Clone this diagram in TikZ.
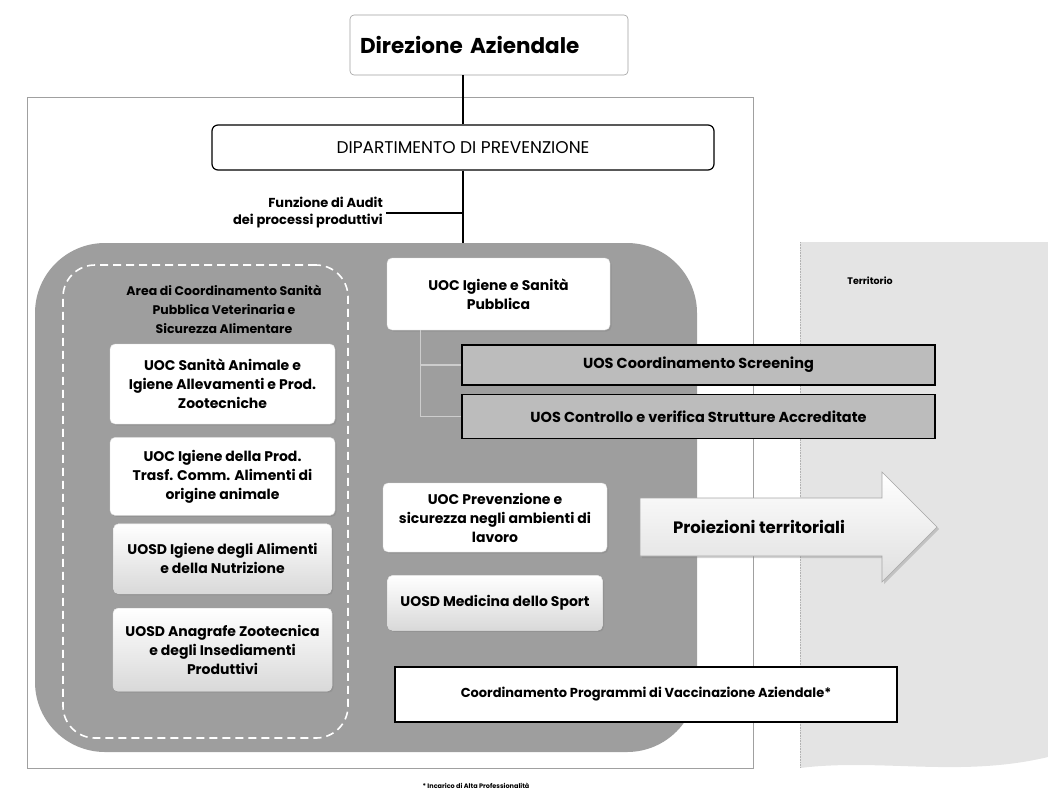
\documentclass[tikz,border=0pt]{standalone}
\usepackage{fontspec}
\setmainfont{Poppins}
\usepackage{tikz}
\usetikzlibrary{positioning, shadows, calc, backgrounds}
\definecolor{aslgray}{RGB}{158,158,158}
\definecolor{asluos}{RGB}{188,188,188}
\definecolor{aslterr}{RGB}{228,228,228}
\definecolor{aslframe}{RGB}{160,160,160}
\definecolor{aslfaint}{RGB}{205,205,205}
\tikzset{
  %% ---- boxes ----
  topbox/.style   = {rectangle, rounded corners=4pt,
                     draw=aslframe, line width=0.6pt, fill=white,
                     text width=258pt, align=left, inner xsep=10pt,
                     font=\fontsize{21.5}{24}\selectfont\bfseries},
  deptbox/.style  = {rectangle, rounded corners=6pt,
                     draw=black, line width=1.2pt, fill=white,
                     align=center, font=\fontsize{17}{20}\selectfont},
  unitbox/.style  = {rectangle, rounded corners=5pt,
                     draw=white!85!black, line width=0.4pt, fill=white,
                     align=center, inner sep=2pt,
                     font=\fontsize{14}{19}\selectfont\bfseries,
                     drop shadow={shadow xshift=1.5pt, shadow yshift=-1.5pt,
                                  opacity=0.35}},
  unitshade/.style= {unitbox, top color=white, bottom color=gray!30},
  uosbox/.style   = {rectangle, draw=black, line width=1.3pt,
                     fill=asluos, align=center,
                     font=\fontsize{14.5}{17}\selectfont\bfseries},
  vaccbox/.style  = {rectangle, draw=black, line width=1.2pt,
                     fill=white, align=center,
                     font=\fontsize{13}{16}\selectfont\bfseries},
  areabox/.style  = {rectangle, rounded corners=70pt, fill=aslgray},
  dashbox/.style  = {rectangle, rounded corners=32pt, draw=white,
                     line width=1.6pt, dash pattern=on 8pt off 5pt},
  %% ---- arrows ----
  link/.style      = {line width=1.3pt, color=black},
  faintlink/.style = {line width=1.2pt, color=aslfaint},
  projarrow/.style = {top color=white, bottom color=gray!25,
                      draw=gray!70, line width=0.6pt,
                      drop shadow={shadow xshift=2pt, shadow yshift=-2pt,
                                   opacity=0.35}},
}

\begin{document}
\begin{tikzpicture}[x=1pt, y=-1pt, font=\bfseries, node distance=10pt]
  \useasboundingbox (0,0) rectangle (1048,803);

  %% Territorio
  \fill[aslterr] (800,242) -- (1048,242) -- (1048,757)
    .. controls (960,778) and (880,758) .. (800,768) -- cycle;
  \draw[gray!60, densely dotted, line width=0.6pt] (800,242) -- (800,768);
  \node[font=\fontsize{9.5}{11}\selectfont\bfseries] (terr) at (870,281) {Territorio};

  %% frame
  \draw[aslframe, line width=0.6pt] (27,97) rectangle (753,768);

  %% Direzione and Dipartimento
  \node[topbox, minimum height=60pt] (dir) at (489,45)
    {Direzione Aziendale};
  \node[deptbox, minimum width=502pt, minimum height=45pt] (dip) at (463,147.5)
    {DIPARTIMENTO DI PREVENZIONE};

  %% grey area
  \node[areabox, minimum width=662pt, minimum height=509pt] (area) at (366,497.5) {};
  \node[dashbox, minimum width=285pt, minimum height=473pt] (vet) at (205.5,501.5) {};

  \draw[link] (dip.north) -- (dip.north |- dir.south);
  \draw[link] (dip.south) -- (dip.south |- area.north);
  \node[anchor=east, align=right, inner sep=3pt,
        font=\fontsize{13}{17}\selectfont\bfseries] (audit) at (386,213)
    {Funzione di Audit\\dei processi produttivi};
  \draw[link] (audit.east) -- (audit.east -| dip.south);

  %% Area veterinaria
  \node[align=center, font=\fontsize{12.5}{19}\selectfont\bfseries] (vettitle) at (224,309)
    {Area di Coordinamento Sanità\\Pubblica Veterinaria e\\Sicurezza Alimentare};
  \node[unitbox, minimum width=225pt, minimum height=80pt] (sanan) at (222.5,384)
    {UOC Sanità Animale e\\Igiene Allevamenti e Prod.\\Zootecniche};
  \node[unitbox, minimum width=225pt, minimum height=78pt, below=13pt of sanan] (igprod)
    {UOC Igiene della Prod.\\Trasf. Comm. Alimenti di\\origine animale};
  \node[unitshade, minimum width=218pt, minimum height=70pt, below=8pt of igprod] (alim)
    {UOSD Igiene degli Alimenti\\e della Nutrizione};
  \node[unitshade, minimum width=219pt, minimum height=83pt, below=14pt of alim] (anagr)
    {UOSD Anagrafe Zootecnica\\e degli Insediamenti\\Produttivi};

  %% Sanita pubblica
  \node[unitbox, minimum width=223pt, minimum height=72pt] (isp) at (498.5,294)
    {UOC Igiene e Sanità\\Pubblica};
  \node[uosbox, minimum width=473pt, minimum height=40pt] (screen) at (698.5,365)
    {UOS Coordinamento Screening};
  \node[uosbox, minimum width=473pt, minimum height=44pt, below=8pt of screen] (accr)
    {UOS Controllo e verifica Strutture Accreditate};
  \draw[faintlink] ([xshift=-78pt]isp.south) |- (screen.west);
  \draw[faintlink] ([xshift=-78pt]isp.south) |- (accr.west);

  \node[unitbox, minimum width=224pt, minimum height=69pt] (prev) at (495,517.5)
    {UOC Prevenzione e\\sicurezza negli ambienti di\\lavoro};
  \node[unitshade, minimum width=215pt, minimum height=55pt, below=23pt of prev] (sport)
    {UOSD Medicina dello Sport};

  %% Proiezioni territoriali
  \draw[projarrow] (640,498) -- (882,498) -- (882,472) -- (937,527)
    -- (882,582) -- (882,556) -- (640,556) -- cycle;
  \node[font=\fontsize{16.5}{19}\selectfont\bfseries] (proj) at (759,527)
    {Proiezioni territoriali};

  %% Vaccinazioni
  \node[vaccbox, minimum width=502pt, minimum height=55pt] (vacc) at (646,694.5)
    {Coordinamento Programmi di Vaccinazione Aziendale*};

  \node[font=\fontsize{6.5}{8}\selectfont\bfseries] (note) at (476,786)
    {* Incarico di Alta Professionalità};

\end{tikzpicture}
\end{document}
